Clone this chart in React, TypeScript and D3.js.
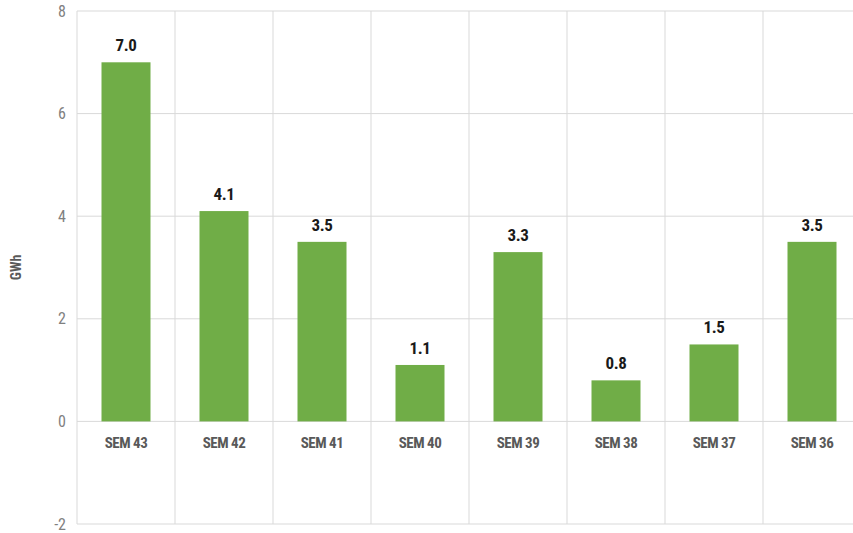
import { useEffect, useRef } from 'react';
import * as d3 from 'd3';

const weeks = ['SEM 43', 'SEM 42', 'SEM 41', 'SEM 40', 'SEM 39', 'SEM 38', 'SEM 37', 'SEM 36'];
const energy = [7.0, 4.1, 3.5, 1.1, 3.3, 0.8, 1.5, 3.5];
const yTicks = [-2, 0, 2, 4, 6, 8];

const width = 853;
const height = 533;

export default function App() {
  const svgRef = useRef<SVGSVGElement>(null);

  useEffect(() => {
    if (!svgRef.current) return;
    const svg = d3.select(svgRef.current);
    svg.selectAll('*').remove();

    const margin = { top: 11, right: -8, bottom: 9, left: 77 };
    const innerWidth = width - margin.left - margin.right;
    const innerHeight = height - margin.top - margin.bottom;
    const font = "'Liberation Sans Narrow', 'Arial Narrow', 'Roboto Condensed', sans-serif";

    const x = d3.scaleBand().domain(weeks).range([0, innerWidth]).paddingInner(0.5).paddingOuter(0.25);
    const y = d3.scaleLinear().domain([-2, 8]).range([innerHeight, 0]);
    const step = x.step();

    const g = svg.append('g').attr('transform', `translate(${margin.left},${margin.top})`);

    // horizontal grid
    g.selectAll('line.h')
      .data(yTicks)
      .join('line')
      .attr('x1', 0)
      .attr('x2', innerWidth)
      .attr('y1', d => y(d))
      .attr('y2', d => y(d))
      .attr('stroke', '#d9d9d9')
      .attr('stroke-width', 1);

    // vertical grid at category boundaries
    g.selectAll('line.v')
      .data(d3.range(weeks.length + 1))
      .join('line')
      .attr('x1', i => i * step)
      .attr('x2', i => i * step)
      .attr('y1', 0)
      .attr('y2', innerHeight)
      .attr('stroke', '#d9d9d9')
      .attr('stroke-width', 1);

    // y tick labels
    g.selectAll('text.ytick')
      .data(yTicks)
      .join('text')
      .attr('x', -11)
      .attr('y', d => y(d))
      .attr('dy', '0.35em')
      .attr('text-anchor', 'end')
      .attr('font-family', font)
      .attr('font-size', 16)
      .attr('fill', '#808080')
      .text(d => d);

    // bars
    g.selectAll('rect')
      .data(energy)
      .join('rect')
      .attr('x', (_, i) => x(weeks[i]) || 0)
      .attr('y', d => y(d))
      .attr('width', x.bandwidth())
      .attr('height', d => y(0) - y(d))
      .attr('fill', '#70ad47');

    // value labels
    g.selectAll('text.val')
      .data(energy)
      .join('text')
      .attr('x', (_, i) => (x(weeks[i]) || 0) + x.bandwidth() / 2)
      .attr('y', d => y(d) - 11)
      .attr('text-anchor', 'middle')
      .attr('font-family', font)
      .attr('font-size', 17)
      .attr('font-weight', 'bold')
      .attr('letter-spacing', -0.3)
      .attr('fill', '#1a1a1a')
      .text(d => d.toFixed(1));

    // category labels
    g.selectAll('text.cat')
      .data(weeks)
      .join('text')
      .attr('x', d => (x(d) || 0) + x.bandwidth() / 2)
      .attr('y', y(0) + 27)
      .attr('text-anchor', 'middle')
      .attr('font-family', font)
      .attr('font-size', 15)
      .attr('font-weight', 'bold')
      .attr('letter-spacing', -0.5)
      .attr('fill', '#595959')
      .text(d => d);

    // axis title
    svg.append('text')
      .attr('transform', `translate(21,${margin.top + innerHeight / 2}) rotate(-90)`)
      .attr('text-anchor', 'middle')
      .attr('font-family', font)
      .attr('font-size', 14)
      .attr('font-weight', 'bold')
      .attr('fill', '#595959')
      .text('GWh');
  }, []);

  return (
    <svg
      ref={svgRef}
      width={width}
      height={height}
      style={{ position: 'absolute', left: 0, top: 0, background: '#fff' }}
    />
  );
}
